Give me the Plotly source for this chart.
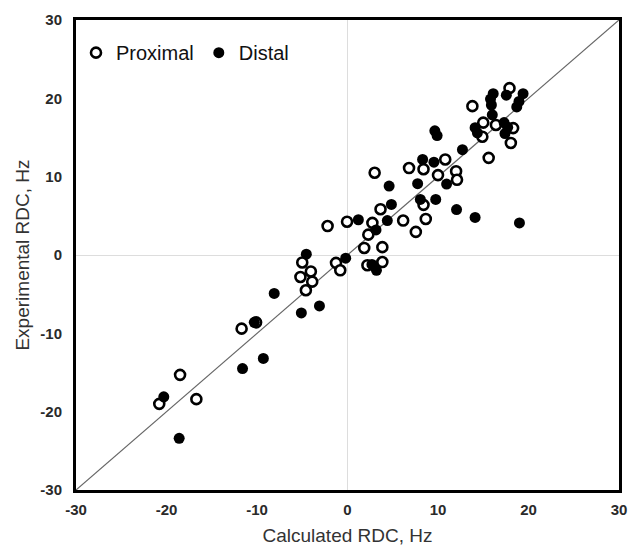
import plotly.graph_objects as go

# Proximal (open circles)
prox_x = [-20.8, -18.5, -16.7, -11.7, -10.1, -5.0, -4.05, -5.2, -3.9, -4.6,
          -2.2, -1.27, -0.8, -0.05, 1.85, 2.3, 2.75, 3.0, 2.2, 3.85,
          3.85, 3.65, 6.15, 6.8, 7.55, 8.4, 8.4, 8.65, 10.0, 10.8,
          12.0, 12.1, 13.8, 14.9, 15.0, 15.6, 16.4, 17.9, 18.05, 18.3]
prox_y = [-19.0, -15.3, -18.4, -9.4, -8.6, -0.95, -2.1, -2.8, -3.4, -4.5,
          3.7, -1.0, -1.95, 4.25, 0.9, 2.6, 4.1, 10.5, -1.3, 1.0,
          -0.9, 5.85, 4.4, 11.1, 2.95, 10.95, 6.4, 4.6, 10.2, 12.2,
          10.7, 9.6, 19.0, 15.1, 16.9, 12.4, 16.6, 21.3, 14.3, 16.2]

# Distal (filled circles)
dist_x = [-18.6, -20.3, -11.6, -9.3, -10.3, -8.1, -5.1, -3.1, -4.55, -0.2,
          1.2, 3.15, 4.4, 4.6, 4.85, 2.7, 3.2, 7.75, 8.05, 8.3,
          9.55, 9.75, 9.65, 9.9, 10.95, 12.05, 12.7, 14.1, 19.0, 14.1,
          14.35, 15.8, 16.1, 15.9, 16.0, 17.55, 17.3, 17.4, 17.7, 18.7,
          18.95, 19.4]
dist_y = [-23.4, -18.1, -14.5, -13.2, -8.6, -4.9, -7.4, -6.5, 0.1, -0.4,
          4.5, 3.2, 4.4, 8.8, 6.45, -1.2, -1.95, 9.1, 7.1, 12.2,
          11.85, 7.1, 15.85, 15.25, 9.05, 5.8, 13.45, 4.8, 4.1, 16.25,
          15.6, 19.9, 20.6, 19.15, 17.9, 20.4, 16.9, 15.5, 16.3, 18.9,
          19.6, 20.6]

# identity line
diag = [-30, 30]
tick_vals = [-30, -20, -10, 0, 10, 20, 30]
tick_text = ["-30", "-20", "-10", "0", "10", "20", "30"]

FONT = "Liberation Sans, Arial"

fig = go.Figure()
fig.add_trace(go.Scatter(x=diag, y=diag, mode="lines",
                         line=dict(color="#666666", width=1.2),
                         showlegend=False, hoverinfo="skip"))
fig.add_trace(go.Scatter(x=prox_x, y=prox_y, mode="markers", name="Proximal",
                         marker=dict(symbol="circle", size=10, color="white",
                                     line=dict(color="black", width=2.6))))
fig.add_trace(go.Scatter(x=dist_x, y=dist_y, mode="markers", name="Distal",
                         marker=dict(symbol="circle", size=11, color="black",
                                     line=dict(color="black", width=0))))

axis_common = dict(
    range=[-30, 30], tickmode="array", tickvals=tick_vals, ticktext=tick_text,
    showgrid=False, zeroline=True, zerolinecolor="#dddddd", zerolinewidth=1,
    showline=True, linecolor="black", linewidth=3, mirror=True,
    ticks="outside", tickcolor="rgba(0,0,0,0)",
    tickfont=dict(family=FONT, size=15, color="#2a2a2a", weight="bold"),
    fixedrange=True, automargin=False,
)

fig.update_layout(
    width=633, height=547,
    margin=dict(l=76, r=14, t=20, b=57),
    plot_bgcolor="white", paper_bgcolor="white",
    xaxis=dict(**axis_common, ticklen=4,
               title=dict(text="Calculated RDC, Hz", standoff=12,
                          font=dict(family=FONT, size=19, color="#333333"))),
    yaxis=dict(**axis_common, ticklen=8,
               title=dict(text="Experimental RDC, Hz", standoff=6,
                          font=dict(family=FONT, size=19, color="#333333"))),
    legend=dict(orientation="h", x=0.0, y=0.972, xanchor="left", yanchor="top",
                font=dict(family=FONT, size=20, color="#111111"),
                bgcolor="rgba(0,0,0,0)", itemwidth=30, tracegroupgap=0),
    showlegend=True,
)

fig.write_html("out.html",
               config={"displayModeBar": False, "staticPlot": True},
               post_script="document.body.style.margin='0';document.body.style.overflow='hidden';")
